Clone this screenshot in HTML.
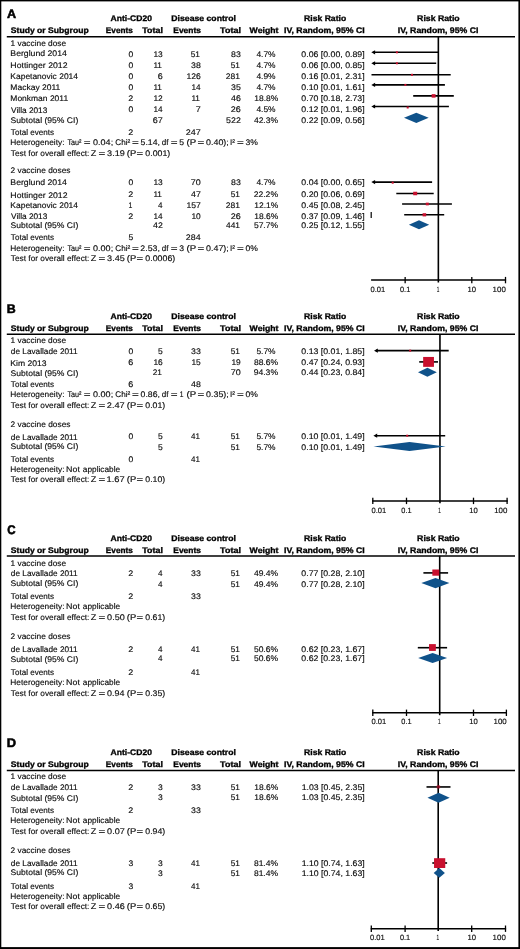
<!DOCTYPE html>
<html lang="en">
<head>
<meta charset="utf-8">
<title>Forest plots: Anti-CD20 vs disease control</title>
<style>
html,body{margin:0;padding:0;background:#fff;}
body{width:520px;height:949px;overflow:hidden;position:relative;}
svg{display:block;position:absolute;left:0;top:0;}
text{font-family:"Liberation Sans",Arial,Helvetica,sans-serif;fill:#0a0a0a;stroke:#0a0a0a;stroke-width:.14px;text-rendering:geometricPrecision;white-space:pre;}
text[font-weight=bold]{fill:#000;stroke:#000;stroke-width:.32px;}
text.pl{stroke-width:.55px;}
</style>
</head>
<body>
<svg width="520" height="949" viewBox="0 0 520 949">
<rect x="0" y="0" width="520" height="949" fill="#fff"/>
<rect x="0" y="0" width="520" height="1.4" fill="#000"/>
<rect x="0" y="0" width="1.3" height="949" fill="#000"/>
<rect x="518.4" y="0" width="1.6" height="949" fill="#000"/>
<rect x="0" y="947.1" width="520" height="1.9" fill="#000"/>
<g>
<line x1="6.80" y1="36.70" x2="515.00" y2="36.70" stroke="#000" stroke-width="1.5"/>
<line x1="438.35" y1="36.70" x2="438.35" y2="282.50" stroke="#000" stroke-width="1.6"/>
<line x1="371.10" y1="280.10" x2="506.10" y2="280.10" stroke="#000" stroke-width="1.5"/>
<line x1="405.15" y1="276.90" x2="405.15" y2="283.30" stroke="#000" stroke-width="1.3"/>
<line x1="471.80" y1="276.90" x2="471.80" y2="283.30" stroke="#000" stroke-width="1.3"/>
<line x1="505.50" y1="276.90" x2="505.50" y2="283.30" stroke="#000" stroke-width="1.3"/>
<line x1="373.30" y1="52.30" x2="438.00" y2="52.30" stroke="#000" stroke-width="1.6"/>
<polygon points="371.30,52.30 375.10,50.20 375.10,54.40" fill="#000"/>
<rect x="395.90" y="51.30" width="2.00" height="2.00" fill="#c8102e"/>
<line x1="373.30" y1="63.30" x2="436.20" y2="63.30" stroke="#000" stroke-width="1.6"/>
<polygon points="371.30,63.30 375.10,61.20 375.10,65.40" fill="#000"/>
<rect x="395.90" y="62.30" width="2.00" height="2.00" fill="#c8102e"/>
<line x1="371.50" y1="74.80" x2="450.70" y2="74.80" stroke="#000" stroke-width="1.6"/>
<rect x="411.00" y="73.80" width="2.00" height="2.00" fill="#c8102e"/>
<line x1="373.30" y1="84.90" x2="444.90" y2="84.90" stroke="#000" stroke-width="1.6"/>
<polygon points="371.30,84.90 375.10,82.80 375.10,87.00" fill="#000"/>
<rect x="404.40" y="83.90" width="2.00" height="2.00" fill="#c8102e"/>
<line x1="413.20" y1="95.90" x2="453.80" y2="95.90" stroke="#000" stroke-width="1.6"/>
<rect x="431.65" y="94.15" width="3.90" height="3.50" fill="#c8102e"/>
<line x1="373.30" y1="106.50" x2="448.90" y2="106.50" stroke="#000" stroke-width="1.6"/>
<polygon points="371.30,106.50 375.10,104.40 375.10,108.60" fill="#000"/>
<rect x="406.70" y="106.50" width="2.00" height="2.00" fill="#c8102e"/>
<polygon points="404.00,117.80 416.30,112.70 428.70,117.80 416.30,122.90" fill="#10528a"/>
<line x1="373.30" y1="182.10" x2="432.10" y2="182.10" stroke="#000" stroke-width="1.6"/>
<polygon points="371.30,182.10 375.10,180.00 375.10,184.20" fill="#000"/>
<rect x="391.70" y="181.70" width="2.00" height="2.00" fill="#c8102e"/>
<line x1="396.30" y1="193.50" x2="433.70" y2="193.50" stroke="#000" stroke-width="1.6"/>
<rect x="413.20" y="191.75" width="4.00" height="3.50" fill="#c8102e"/>
<line x1="402.10" y1="204.00" x2="451.90" y2="204.00" stroke="#000" stroke-width="1.6"/>
<rect x="425.80" y="202.65" width="3.00" height="2.70" fill="#c8102e"/>
<line x1="404.20" y1="214.80" x2="444.20" y2="214.80" stroke="#000" stroke-width="1.6"/>
<rect x="422.60" y="213.20" width="3.60" height="3.20" fill="#c8102e"/>
<polygon points="408.90,224.80 419.00,220.30 429.20,224.80 419.00,229.30" fill="#10528a"/>
<line x1="371.20" y1="212.10" x2="371.20" y2="218.10" stroke="#000" stroke-width="1.2"/>
<line x1="6.80" y1="334.20" x2="515.00" y2="334.20" stroke="#000" stroke-width="1.5"/>
<line x1="439.95" y1="334.20" x2="439.95" y2="503.30" stroke="#000" stroke-width="1.6"/>
<line x1="372.20" y1="500.90" x2="507.70" y2="500.90" stroke="#000" stroke-width="1.5"/>
<line x1="372.80" y1="497.70" x2="372.80" y2="504.10" stroke="#000" stroke-width="1.3"/>
<line x1="406.50" y1="497.70" x2="406.50" y2="504.10" stroke="#000" stroke-width="1.3"/>
<line x1="473.50" y1="497.70" x2="473.50" y2="504.10" stroke="#000" stroke-width="1.3"/>
<line x1="507.10" y1="497.70" x2="507.10" y2="504.10" stroke="#000" stroke-width="1.3"/>
<line x1="376.00" y1="350.65" x2="448.70" y2="350.65" stroke="#000" stroke-width="1.6"/>
<polygon points="374.00,350.65 377.80,348.55 377.80,352.75" fill="#000"/>
<rect x="409.20" y="349.65" width="2.00" height="2.00" fill="#c8102e"/>
<line x1="419.20" y1="361.90" x2="438.00" y2="361.90" stroke="#000" stroke-width="1.6"/>
<rect x="423.15" y="356.95" width="10.80" height="9.90" fill="#c8102e"/>
<polygon points="418.00,372.20 427.40,367.75 436.80,372.20 427.40,376.65" fill="#10528a"/>
<line x1="375.40" y1="435.70" x2="445.20" y2="435.70" stroke="#000" stroke-width="1.6"/>
<polygon points="373.40,435.70 377.20,433.60 377.20,437.80" fill="#000"/>
<rect x="406.20" y="434.70" width="2.00" height="2.00" fill="#c8102e"/>
<polygon points="373.50,446.50 409.50,442.00 445.70,446.50 409.50,451.00" fill="#10528a"/>
<line x1="6.80" y1="556.00" x2="515.00" y2="556.00" stroke="#000" stroke-width="1.5"/>
<line x1="439.70" y1="555.70" x2="439.70" y2="715.20" stroke="#000" stroke-width="1.6"/>
<line x1="372.20" y1="712.80" x2="507.00" y2="712.80" stroke="#000" stroke-width="1.5"/>
<line x1="372.80" y1="709.60" x2="372.80" y2="716.00" stroke="#000" stroke-width="1.3"/>
<line x1="406.50" y1="709.60" x2="406.50" y2="716.00" stroke="#000" stroke-width="1.3"/>
<line x1="473.50" y1="709.60" x2="473.50" y2="716.00" stroke="#000" stroke-width="1.3"/>
<line x1="506.40" y1="709.60" x2="506.40" y2="716.00" stroke="#000" stroke-width="1.3"/>
<line x1="423.40" y1="572.90" x2="448.10" y2="572.90" stroke="#000" stroke-width="1.6"/>
<rect x="432.35" y="569.50" width="6.90" height="6.20" fill="#c8102e"/>
<polygon points="421.30,583.10 435.50,577.95 449.40,583.10 435.50,588.25" fill="#10528a"/>
<line x1="417.80" y1="647.70" x2="447.10" y2="647.70" stroke="#000" stroke-width="1.6"/>
<rect x="429.05" y="644.10" width="6.80" height="6.80" fill="#c8102e"/>
<polygon points="418.20,658.00 432.60,653.00 447.10,658.00 432.60,663.00" fill="#10528a"/>
<line x1="6.80" y1="770.40" x2="515.00" y2="770.40" stroke="#000" stroke-width="1.5"/>
<line x1="438.20" y1="770.20" x2="438.20" y2="931.10" stroke="#000" stroke-width="1.6"/>
<line x1="370.70" y1="928.70" x2="506.10" y2="928.70" stroke="#000" stroke-width="1.5"/>
<line x1="371.30" y1="925.50" x2="371.30" y2="931.90" stroke="#000" stroke-width="1.3"/>
<line x1="405.10" y1="925.50" x2="405.10" y2="931.90" stroke="#000" stroke-width="1.3"/>
<line x1="471.70" y1="925.50" x2="471.70" y2="931.90" stroke="#000" stroke-width="1.3"/>
<line x1="505.50" y1="925.50" x2="505.50" y2="931.90" stroke="#000" stroke-width="1.3"/>
<line x1="426.50" y1="786.95" x2="450.50" y2="786.95" stroke="#000" stroke-width="1.6"/>
<rect x="436.6" y="785.3" width="3.6" height="3.3" rx="0.8" fill="#b00c28" fill-opacity="0.72"/>
<polygon points="427.50,797.75 438.60,792.65 449.70,797.75 438.60,802.85" fill="#10528a"/>
<line x1="432.30" y1="863.00" x2="447.10" y2="863.00" stroke="#000" stroke-width="1.6"/>
<rect x="434.05" y="858.20" width="11.20" height="9.80" fill="#c8102e"/>
<polygon points="433.70,872.90 439.30,868.10 444.90,872.90 439.30,877.70" fill="#10528a"/>
</g>
<g style="filter:grayscale(1)">
<text x="6.90" y="18.30" font-size="12.4" font-weight="bold" class="pl" textLength="9.10" lengthAdjust="spacingAndGlyphs">A</text>
<text x="110.60" y="21.20" font-size="8.15" font-weight="bold" textLength="41.30" lengthAdjust="spacingAndGlyphs">Anti-CD20</text>
<text x="171.35" y="21.20" font-size="8.15" font-weight="bold" textLength="64.55" lengthAdjust="spacingAndGlyphs">Disease control</text>
<text x="304.10" y="21.20" font-size="8.15" font-weight="bold" textLength="42.05" lengthAdjust="spacingAndGlyphs">Risk Ratio</text>
<text x="417.10" y="21.20" font-size="8.15" font-weight="bold" textLength="42.55" lengthAdjust="spacingAndGlyphs">Risk Ratio</text>
<text x="10.85" y="33.10" font-size="8.15" font-weight="bold" textLength="77.80" lengthAdjust="spacingAndGlyphs">Study or Subgroup</text>
<text x="105.85" y="33.10" font-size="8.15" font-weight="bold" textLength="27.05" lengthAdjust="spacingAndGlyphs">Events</text>
<text x="142.35" y="33.10" font-size="8.15" font-weight="bold" textLength="20.55" lengthAdjust="spacingAndGlyphs">Total</text>
<text x="173.35" y="33.10" font-size="8.15" font-weight="bold" textLength="27.55" lengthAdjust="spacingAndGlyphs">Events</text>
<text x="220.10" y="33.10" font-size="8.15" font-weight="bold" textLength="20.80" lengthAdjust="spacingAndGlyphs">Total</text>
<text x="249.60" y="33.10" font-size="8.15" font-weight="bold" textLength="28.80" lengthAdjust="spacingAndGlyphs">Weight</text>
<text x="284.10" y="33.10" font-size="8.15" font-weight="bold" textLength="80.55" lengthAdjust="spacingAndGlyphs">IV, Random, 95% CI</text>
<text x="397.85" y="33.10" font-size="8.15" font-weight="bold" textLength="80.55" lengthAdjust="spacingAndGlyphs">IV, Random, 95% CI</text>
<text x="10.60" y="45.65" font-size="8.15" textLength="55.55" lengthAdjust="spacingAndGlyphs">1 vaccine dose</text>
<text x="10.35" y="56.40" font-size="8.15" textLength="56.50" lengthAdjust="spacingAndGlyphs">Berglund 2014</text>
<text x="128.45" y="56.65" font-size="8.15" textLength="4.75" lengthAdjust="spacingAndGlyphs">0</text>
<text x="153.40" y="56.65" font-size="8.15" textLength="9.35" lengthAdjust="spacingAndGlyphs">13</text>
<text x="190.80" y="56.65" font-size="8.15" textLength="9.15" lengthAdjust="spacingAndGlyphs">51</text>
<text x="231.05" y="56.65" font-size="8.15" textLength="9.75" lengthAdjust="spacingAndGlyphs">83</text>
<text x="256.40" y="56.65" font-size="8.15" textLength="19.15" lengthAdjust="spacingAndGlyphs">4.7%</text>
<text x="301.35" y="56.65" font-size="8.15" textLength="63.30" lengthAdjust="spacingAndGlyphs">0.06 [0.00, 0.89]</text>
<text x="10.35" y="68.25" font-size="8.15" textLength="57.20" lengthAdjust="spacingAndGlyphs">Hottinger 2012</text>
<text x="128.45" y="68.00" font-size="8.15" textLength="4.75" lengthAdjust="spacingAndGlyphs">0</text>
<text x="153.40" y="68.00" font-size="8.15" textLength="8.50" lengthAdjust="spacingAndGlyphs">11</text>
<text x="191.05" y="68.00" font-size="8.15" textLength="9.75" lengthAdjust="spacingAndGlyphs">38</text>
<text x="230.80" y="68.00" font-size="8.15" textLength="9.15" lengthAdjust="spacingAndGlyphs">51</text>
<text x="256.40" y="68.00" font-size="8.15" textLength="19.15" lengthAdjust="spacingAndGlyphs">4.7%</text>
<text x="301.35" y="68.00" font-size="8.15" textLength="63.30" lengthAdjust="spacingAndGlyphs">0.06 [0.00, 0.85]</text>
<text x="10.35" y="78.90" font-size="8.15" textLength="67.65" lengthAdjust="spacingAndGlyphs">Kapetanovic 2014</text>
<text x="128.45" y="78.65" font-size="8.15" textLength="4.75" lengthAdjust="spacingAndGlyphs">0</text>
<text x="157.80" y="78.65" font-size="8.15" textLength="5.00" lengthAdjust="spacingAndGlyphs">6</text>
<text x="186.40" y="78.65" font-size="8.15" textLength="14.35" lengthAdjust="spacingAndGlyphs">126</text>
<text x="225.80" y="78.65" font-size="8.15" textLength="14.15" lengthAdjust="spacingAndGlyphs">281</text>
<text x="256.40" y="78.65" font-size="8.15" textLength="19.15" lengthAdjust="spacingAndGlyphs">4.9%</text>
<text x="301.35" y="78.65" font-size="8.15" textLength="63.30" lengthAdjust="spacingAndGlyphs">0.16 [0.01, 2.31]</text>
<text x="10.35" y="90.35" font-size="8.15" textLength="49.95" lengthAdjust="spacingAndGlyphs">Mackay 2011</text>
<text x="128.45" y="90.35" font-size="8.15" textLength="4.75" lengthAdjust="spacingAndGlyphs">0</text>
<text x="153.40" y="90.35" font-size="8.15" textLength="8.50" lengthAdjust="spacingAndGlyphs">11</text>
<text x="191.40" y="90.35" font-size="8.15" textLength="9.10" lengthAdjust="spacingAndGlyphs">14</text>
<text x="231.05" y="90.35" font-size="8.15" textLength="9.75" lengthAdjust="spacingAndGlyphs">35</text>
<text x="256.40" y="90.35" font-size="8.15" textLength="19.15" lengthAdjust="spacingAndGlyphs">4.7%</text>
<text x="301.35" y="90.35" font-size="8.15" textLength="63.30" lengthAdjust="spacingAndGlyphs">0.10 [0.01, 1.61]</text>
<text x="10.35" y="101.35" font-size="8.15" textLength="57.75" lengthAdjust="spacingAndGlyphs">Monkman 2011</text>
<text x="128.20" y="101.35" font-size="8.15" textLength="5.00" lengthAdjust="spacingAndGlyphs">2</text>
<text x="153.40" y="101.35" font-size="8.15" textLength="9.35" lengthAdjust="spacingAndGlyphs">12</text>
<text x="191.40" y="101.35" font-size="8.15" textLength="8.50" lengthAdjust="spacingAndGlyphs">11</text>
<text x="231.05" y="101.35" font-size="8.15" textLength="9.75" lengthAdjust="spacingAndGlyphs">46</text>
<text x="254.25" y="101.35" font-size="8.15" textLength="24.00" lengthAdjust="spacingAndGlyphs">18.8%</text>
<text x="301.35" y="101.35" font-size="8.15" textLength="63.30" lengthAdjust="spacingAndGlyphs">0.70 [0.18, 2.73]</text>
<text x="11.10" y="112.85" font-size="8.15" textLength="36.20" lengthAdjust="spacingAndGlyphs">Villa 2013</text>
<text x="128.45" y="112.45" font-size="8.15" textLength="4.75" lengthAdjust="spacingAndGlyphs">0</text>
<text x="153.40" y="112.45" font-size="8.15" textLength="9.10" lengthAdjust="spacingAndGlyphs">14</text>
<text x="195.80" y="112.45" font-size="8.15" textLength="5.00" lengthAdjust="spacingAndGlyphs">7</text>
<text x="230.80" y="112.45" font-size="8.15" textLength="10.00" lengthAdjust="spacingAndGlyphs">26</text>
<text x="256.40" y="112.45" font-size="8.15" textLength="19.15" lengthAdjust="spacingAndGlyphs">4.5%</text>
<text x="301.35" y="112.45" font-size="8.15" textLength="63.30" lengthAdjust="spacingAndGlyphs">0.12 [0.01, 1.96]</text>
<text x="10.60" y="122.80" font-size="8.15" textLength="67.65" lengthAdjust="spacingAndGlyphs">Subtotal (95% CI)</text>
<text x="152.80" y="122.55" font-size="8.15" textLength="10.00" lengthAdjust="spacingAndGlyphs">67</text>
<text x="226.05" y="122.55" font-size="8.15" textLength="14.75" lengthAdjust="spacingAndGlyphs">522</text>
<text x="253.90" y="122.55" font-size="8.15" textLength="24.15" lengthAdjust="spacingAndGlyphs">42.3%</text>
<text x="301.35" y="122.55" font-size="8.15" textLength="63.30" lengthAdjust="spacingAndGlyphs">0.22 [0.09, 0.56]</text>
<text x="10.85" y="134.95" font-size="8.15" textLength="43.15" lengthAdjust="spacingAndGlyphs">Total events</text>
<text x="128.20" y="134.95" font-size="8.15" textLength="5.00" lengthAdjust="spacingAndGlyphs">2</text>
<text x="185.80" y="134.95" font-size="8.15" textLength="15.00" lengthAdjust="spacingAndGlyphs">247</text>
<text y="145.35" font-size="8.15"><tspan x="10.35" textLength="54.15" lengthAdjust="spacingAndGlyphs">Heterogeneity:</tspan> <tspan x="67.45" textLength="14.05" lengthAdjust="spacingAndGlyphs">Tau²</tspan> <tspan x="83.85" textLength="6.80" lengthAdjust="spacingAndGlyphs">=</tspan> <tspan x="93.10" textLength="20.05" lengthAdjust="spacingAndGlyphs">0.04;</tspan> <tspan x="115.35" textLength="15.00" lengthAdjust="spacingAndGlyphs">Chi²</tspan> <tspan x="132.05" textLength="6.80" lengthAdjust="spacingAndGlyphs">=</tspan> <tspan x="140.60" textLength="19.30" lengthAdjust="spacingAndGlyphs">5.14,</tspan> <tspan x="161.75" textLength="6.70" lengthAdjust="spacingAndGlyphs">df</tspan> <tspan x="170.65" textLength="6.80" lengthAdjust="spacingAndGlyphs">=</tspan> <tspan x="179.25" textLength="4.80" lengthAdjust="spacingAndGlyphs">5</tspan> <tspan x="186.50" textLength="9.50" lengthAdjust="spacingAndGlyphs">(P</tspan> <tspan x="197.55" textLength="6.80" lengthAdjust="spacingAndGlyphs">=</tspan> <tspan x="206.10" textLength="22.70" lengthAdjust="spacingAndGlyphs">0.40);</tspan> <tspan x="229.95" textLength="4.90" lengthAdjust="spacingAndGlyphs">I²</tspan> <tspan x="236.90" textLength="6.80" lengthAdjust="spacingAndGlyphs">=</tspan> <tspan x="245.45" textLength="12.40" lengthAdjust="spacingAndGlyphs">3%</tspan></text>
<text y="155.75" font-size="8.15"><tspan x="10.85" textLength="78.55" lengthAdjust="spacingAndGlyphs">Test for overall effect:</tspan> <tspan x="90.85" textLength="5.55" lengthAdjust="spacingAndGlyphs">Z</tspan> <tspan x="98.60" textLength="6.80" lengthAdjust="spacingAndGlyphs">=</tspan> <tspan x="107.10" textLength="17.65" lengthAdjust="spacingAndGlyphs">3.19</tspan> <tspan x="126.85" textLength="9.25" lengthAdjust="spacingAndGlyphs">(P</tspan> <tspan x="136.50" textLength="6.65" lengthAdjust="spacingAndGlyphs">=</tspan> <tspan x="145.35" textLength="24.90" lengthAdjust="spacingAndGlyphs">0.001)</tspan></text>
<text x="10.60" y="172.95" font-size="8.15" textLength="59.85" lengthAdjust="spacingAndGlyphs">2 vaccine doses</text>
<text x="10.35" y="184.95" font-size="8.15" textLength="56.50" lengthAdjust="spacingAndGlyphs">Berglund 2014</text>
<text x="128.45" y="184.95" font-size="8.15" textLength="4.75" lengthAdjust="spacingAndGlyphs">0</text>
<text x="153.40" y="184.95" font-size="8.15" textLength="9.35" lengthAdjust="spacingAndGlyphs">13</text>
<text x="190.80" y="184.95" font-size="8.15" textLength="10.00" lengthAdjust="spacingAndGlyphs">70</text>
<text x="231.05" y="184.95" font-size="8.15" textLength="9.75" lengthAdjust="spacingAndGlyphs">83</text>
<text x="256.40" y="184.95" font-size="8.15" textLength="19.15" lengthAdjust="spacingAndGlyphs">4.7%</text>
<text x="301.35" y="184.95" font-size="8.15" textLength="63.30" lengthAdjust="spacingAndGlyphs">0.04 [0.00, 0.65]</text>
<text x="10.35" y="197.70" font-size="8.15" textLength="57.20" lengthAdjust="spacingAndGlyphs">Hottinger 2012</text>
<text x="128.20" y="197.30" font-size="8.15" textLength="5.00" lengthAdjust="spacingAndGlyphs">2</text>
<text x="153.40" y="197.30" font-size="8.15" textLength="8.50" lengthAdjust="spacingAndGlyphs">11</text>
<text x="191.05" y="197.30" font-size="8.15" textLength="9.75" lengthAdjust="spacingAndGlyphs">47</text>
<text x="230.80" y="197.30" font-size="8.15" textLength="9.15" lengthAdjust="spacingAndGlyphs">51</text>
<text x="253.65" y="197.30" font-size="8.15" textLength="24.40" lengthAdjust="spacingAndGlyphs">22.2%</text>
<text x="301.35" y="197.30" font-size="8.15" textLength="63.30" lengthAdjust="spacingAndGlyphs">0.20 [0.06, 0.69]</text>
<text x="10.35" y="208.05" font-size="8.15" textLength="67.65" lengthAdjust="spacingAndGlyphs">Kapetanovic 2014</text>
<text x="128.60" y="207.80" font-size="8.15" textLength="3.85" lengthAdjust="spacingAndGlyphs">1</text>
<text x="158.05" y="207.80" font-size="8.15" textLength="4.50" lengthAdjust="spacingAndGlyphs">4</text>
<text x="186.40" y="207.80" font-size="8.15" textLength="14.35" lengthAdjust="spacingAndGlyphs">157</text>
<text x="225.80" y="207.80" font-size="8.15" textLength="14.15" lengthAdjust="spacingAndGlyphs">281</text>
<text x="254.25" y="207.80" font-size="8.15" textLength="24.00" lengthAdjust="spacingAndGlyphs">12.1%</text>
<text x="301.35" y="207.80" font-size="8.15" textLength="63.30" lengthAdjust="spacingAndGlyphs">0.45 [0.08, 2.45]</text>
<text x="11.10" y="219.45" font-size="8.15" textLength="36.20" lengthAdjust="spacingAndGlyphs">Villa 2013</text>
<text x="128.20" y="219.20" font-size="8.15" textLength="5.00" lengthAdjust="spacingAndGlyphs">2</text>
<text x="153.40" y="219.20" font-size="8.15" textLength="9.10" lengthAdjust="spacingAndGlyphs">14</text>
<text x="191.40" y="219.20" font-size="8.15" textLength="9.35" lengthAdjust="spacingAndGlyphs">10</text>
<text x="230.80" y="219.20" font-size="8.15" textLength="10.00" lengthAdjust="spacingAndGlyphs">26</text>
<text x="254.25" y="219.20" font-size="8.15" textLength="24.00" lengthAdjust="spacingAndGlyphs">18.6%</text>
<text x="301.35" y="219.20" font-size="8.15" textLength="63.30" lengthAdjust="spacingAndGlyphs">0.37 [0.09, 1.46]</text>
<text x="10.60" y="228.05" font-size="8.15" textLength="67.65" lengthAdjust="spacingAndGlyphs">Subtotal (95% CI)</text>
<text x="153.05" y="228.05" font-size="8.15" textLength="9.75" lengthAdjust="spacingAndGlyphs">42</text>
<text x="226.05" y="228.05" font-size="8.15" textLength="13.90" lengthAdjust="spacingAndGlyphs">441</text>
<text x="253.90" y="228.05" font-size="8.15" textLength="24.15" lengthAdjust="spacingAndGlyphs">57.7%</text>
<text x="301.35" y="228.05" font-size="8.15" textLength="63.30" lengthAdjust="spacingAndGlyphs">0.25 [0.12, 1.55]</text>
<text x="10.85" y="240.15" font-size="8.15" textLength="43.15" lengthAdjust="spacingAndGlyphs">Total events</text>
<text x="128.45" y="240.15" font-size="8.15" textLength="4.75" lengthAdjust="spacingAndGlyphs">5</text>
<text x="185.80" y="240.15" font-size="8.15" textLength="14.75" lengthAdjust="spacingAndGlyphs">284</text>
<text y="251.15" font-size="8.15"><tspan x="10.35" textLength="54.15" lengthAdjust="spacingAndGlyphs">Heterogeneity:</tspan> <tspan x="67.45" textLength="14.05" lengthAdjust="spacingAndGlyphs">Tau²</tspan> <tspan x="83.85" textLength="6.80" lengthAdjust="spacingAndGlyphs">=</tspan> <tspan x="93.10" textLength="20.05" lengthAdjust="spacingAndGlyphs">0.00;</tspan> <tspan x="115.35" textLength="15.00" lengthAdjust="spacingAndGlyphs">Chi²</tspan> <tspan x="132.05" textLength="6.80" lengthAdjust="spacingAndGlyphs">=</tspan> <tspan x="140.35" textLength="19.55" lengthAdjust="spacingAndGlyphs">2.53,</tspan> <tspan x="161.75" textLength="6.70" lengthAdjust="spacingAndGlyphs">df</tspan> <tspan x="170.65" textLength="6.80" lengthAdjust="spacingAndGlyphs">=</tspan> <tspan x="179.25" textLength="4.80" lengthAdjust="spacingAndGlyphs">3</tspan> <tspan x="186.50" textLength="9.50" lengthAdjust="spacingAndGlyphs">(P</tspan> <tspan x="197.55" textLength="6.80" lengthAdjust="spacingAndGlyphs">=</tspan> <tspan x="206.10" textLength="22.70" lengthAdjust="spacingAndGlyphs">0.47);</tspan> <tspan x="229.95" textLength="4.90" lengthAdjust="spacingAndGlyphs">I²</tspan> <tspan x="236.90" textLength="6.80" lengthAdjust="spacingAndGlyphs">=</tspan> <tspan x="245.45" textLength="12.40" lengthAdjust="spacingAndGlyphs">0%</tspan></text>
<text y="261.25" font-size="8.15"><tspan x="10.85" textLength="78.55" lengthAdjust="spacingAndGlyphs">Test for overall effect:</tspan> <tspan x="90.85" textLength="5.55" lengthAdjust="spacingAndGlyphs">Z</tspan> <tspan x="98.60" textLength="6.80" lengthAdjust="spacingAndGlyphs">=</tspan> <tspan x="107.10" textLength="17.65" lengthAdjust="spacingAndGlyphs">3.45</tspan> <tspan x="126.85" textLength="9.25" lengthAdjust="spacingAndGlyphs">(P</tspan> <tspan x="136.50" textLength="6.65" lengthAdjust="spacingAndGlyphs">=</tspan> <tspan x="145.35" textLength="29.90" lengthAdjust="spacingAndGlyphs">0.0006)</tspan></text>
<text x="370.45" y="291.90" font-size="7.7" textLength="14.75" lengthAdjust="spacingAndGlyphs">0.01</text>
<text x="400.00" y="291.90" font-size="7.7" textLength="10.25" lengthAdjust="spacingAndGlyphs">0.1</text>
<text x="436.65" y="291.90" font-size="7.7" textLength="2.60" lengthAdjust="spacingAndGlyphs">1</text>
<text x="467.60" y="291.90" font-size="7.7" textLength="8.55" lengthAdjust="spacingAndGlyphs">10</text>
<text x="492.60" y="291.90" font-size="7.7" textLength="13.20" lengthAdjust="spacingAndGlyphs">100</text>
<text x="6.65" y="313.10" font-size="12.4" font-weight="bold" class="pl" textLength="8.95" lengthAdjust="spacingAndGlyphs">B</text>
<text x="110.60" y="318.60" font-size="8.15" font-weight="bold" textLength="41.30" lengthAdjust="spacingAndGlyphs">Anti-CD20</text>
<text x="171.35" y="318.60" font-size="8.15" font-weight="bold" textLength="64.55" lengthAdjust="spacingAndGlyphs">Disease control</text>
<text x="304.10" y="318.60" font-size="8.15" font-weight="bold" textLength="42.05" lengthAdjust="spacingAndGlyphs">Risk Ratio</text>
<text x="417.10" y="318.60" font-size="8.15" font-weight="bold" textLength="42.55" lengthAdjust="spacingAndGlyphs">Risk Ratio</text>
<text x="10.85" y="330.90" font-size="8.15" font-weight="bold" textLength="77.80" lengthAdjust="spacingAndGlyphs">Study or Subgroup</text>
<text x="105.85" y="330.90" font-size="8.15" font-weight="bold" textLength="27.05" lengthAdjust="spacingAndGlyphs">Events</text>
<text x="142.35" y="330.90" font-size="8.15" font-weight="bold" textLength="20.55" lengthAdjust="spacingAndGlyphs">Total</text>
<text x="173.35" y="330.90" font-size="8.15" font-weight="bold" textLength="27.55" lengthAdjust="spacingAndGlyphs">Events</text>
<text x="220.10" y="330.90" font-size="8.15" font-weight="bold" textLength="20.80" lengthAdjust="spacingAndGlyphs">Total</text>
<text x="249.60" y="330.90" font-size="8.15" font-weight="bold" textLength="28.80" lengthAdjust="spacingAndGlyphs">Weight</text>
<text x="284.10" y="330.90" font-size="8.15" font-weight="bold" textLength="80.55" lengthAdjust="spacingAndGlyphs">IV, Random, 95% CI</text>
<text x="397.85" y="330.90" font-size="8.15" font-weight="bold" textLength="80.55" lengthAdjust="spacingAndGlyphs">IV, Random, 95% CI</text>
<text x="10.60" y="343.40" font-size="8.15" textLength="55.55" lengthAdjust="spacingAndGlyphs">1 vaccine dose</text>
<text x="10.85" y="354.05" font-size="8.15" textLength="66.80" lengthAdjust="spacingAndGlyphs">de Lavallade 2011</text>
<text x="128.45" y="353.80" font-size="8.15" textLength="4.75" lengthAdjust="spacingAndGlyphs">0</text>
<text x="158.05" y="353.80" font-size="8.15" textLength="4.75" lengthAdjust="spacingAndGlyphs">5</text>
<text x="191.05" y="353.80" font-size="8.15" textLength="9.75" lengthAdjust="spacingAndGlyphs">33</text>
<text x="230.80" y="353.80" font-size="8.15" textLength="9.15" lengthAdjust="spacingAndGlyphs">51</text>
<text x="256.40" y="353.80" font-size="8.15" textLength="19.15" lengthAdjust="spacingAndGlyphs">5.7%</text>
<text x="301.35" y="353.80" font-size="8.15" textLength="63.30" lengthAdjust="spacingAndGlyphs">0.13 [0.01, 1.85]</text>
<text x="10.35" y="365.75" font-size="8.15" textLength="36.30" lengthAdjust="spacingAndGlyphs">Kim 2013</text>
<text x="128.20" y="365.15" font-size="8.15" textLength="5.00" lengthAdjust="spacingAndGlyphs">6</text>
<text x="153.40" y="365.15" font-size="8.15" textLength="9.35" lengthAdjust="spacingAndGlyphs">16</text>
<text x="191.40" y="365.15" font-size="8.15" textLength="9.35" lengthAdjust="spacingAndGlyphs">15</text>
<text x="231.40" y="365.15" font-size="8.15" textLength="9.35" lengthAdjust="spacingAndGlyphs">19</text>
<text x="253.90" y="365.15" font-size="8.15" textLength="24.15" lengthAdjust="spacingAndGlyphs">88.6%</text>
<text x="301.35" y="365.15" font-size="8.15" textLength="63.30" lengthAdjust="spacingAndGlyphs">0.47 [0.24, 0.93]</text>
<text x="10.60" y="375.60" font-size="8.15" textLength="67.65" lengthAdjust="spacingAndGlyphs">Subtotal (95% CI)</text>
<text x="152.80" y="375.00" font-size="8.15" textLength="9.15" lengthAdjust="spacingAndGlyphs">21</text>
<text x="230.80" y="375.00" font-size="8.15" textLength="10.00" lengthAdjust="spacingAndGlyphs">70</text>
<text x="253.65" y="375.00" font-size="8.15" textLength="24.40" lengthAdjust="spacingAndGlyphs">94.3%</text>
<text x="301.35" y="375.00" font-size="8.15" textLength="63.30" lengthAdjust="spacingAndGlyphs">0.44 [0.23, 0.84]</text>
<text x="10.85" y="386.55" font-size="8.15" textLength="43.15" lengthAdjust="spacingAndGlyphs">Total events</text>
<text x="128.20" y="386.55" font-size="8.15" textLength="5.00" lengthAdjust="spacingAndGlyphs">6</text>
<text x="191.05" y="386.55" font-size="8.15" textLength="9.75" lengthAdjust="spacingAndGlyphs">48</text>
<text y="397.40" font-size="8.15"><tspan x="10.35" textLength="54.15" lengthAdjust="spacingAndGlyphs">Heterogeneity:</tspan> <tspan x="67.45" textLength="14.05" lengthAdjust="spacingAndGlyphs">Tau²</tspan> <tspan x="83.85" textLength="6.80" lengthAdjust="spacingAndGlyphs">=</tspan> <tspan x="93.10" textLength="20.05" lengthAdjust="spacingAndGlyphs">0.00;</tspan> <tspan x="115.35" textLength="15.00" lengthAdjust="spacingAndGlyphs">Chi²</tspan> <tspan x="132.05" textLength="6.80" lengthAdjust="spacingAndGlyphs">=</tspan> <tspan x="140.60" textLength="19.30" lengthAdjust="spacingAndGlyphs">0.86,</tspan> <tspan x="161.75" textLength="6.70" lengthAdjust="spacingAndGlyphs">df</tspan> <tspan x="170.65" textLength="6.80" lengthAdjust="spacingAndGlyphs">=</tspan> <tspan x="179.80" textLength="3.70" lengthAdjust="spacingAndGlyphs">1</tspan> <tspan x="186.50" textLength="9.50" lengthAdjust="spacingAndGlyphs">(P</tspan> <tspan x="197.55" textLength="6.80" lengthAdjust="spacingAndGlyphs">=</tspan> <tspan x="206.10" textLength="22.70" lengthAdjust="spacingAndGlyphs">0.35);</tspan> <tspan x="229.95" textLength="4.90" lengthAdjust="spacingAndGlyphs">I²</tspan> <tspan x="236.90" textLength="6.80" lengthAdjust="spacingAndGlyphs">=</tspan> <tspan x="245.45" textLength="12.40" lengthAdjust="spacingAndGlyphs">0%</tspan></text>
<text y="408.05" font-size="8.15"><tspan x="10.85" textLength="78.55" lengthAdjust="spacingAndGlyphs">Test for overall effect:</tspan> <tspan x="90.85" textLength="5.55" lengthAdjust="spacingAndGlyphs">Z</tspan> <tspan x="98.60" textLength="6.80" lengthAdjust="spacingAndGlyphs">=</tspan> <tspan x="106.85" textLength="17.90" lengthAdjust="spacingAndGlyphs">2.47</tspan> <tspan x="126.85" textLength="9.25" lengthAdjust="spacingAndGlyphs">(P</tspan> <tspan x="136.50" textLength="6.65" lengthAdjust="spacingAndGlyphs">=</tspan> <tspan x="145.35" textLength="19.90" lengthAdjust="spacingAndGlyphs">0.01)</tspan></text>
<text x="10.60" y="426.60" font-size="8.15" textLength="59.85" lengthAdjust="spacingAndGlyphs">2 vaccine doses</text>
<text x="10.85" y="439.75" font-size="8.15" textLength="66.80" lengthAdjust="spacingAndGlyphs">de Lavallade 2011</text>
<text x="128.45" y="439.15" font-size="8.15" textLength="4.75" lengthAdjust="spacingAndGlyphs">0</text>
<text x="158.05" y="439.15" font-size="8.15" textLength="4.75" lengthAdjust="spacingAndGlyphs">5</text>
<text x="191.05" y="439.15" font-size="8.15" textLength="8.90" lengthAdjust="spacingAndGlyphs">41</text>
<text x="230.80" y="439.15" font-size="8.15" textLength="9.15" lengthAdjust="spacingAndGlyphs">51</text>
<text x="256.40" y="439.15" font-size="8.15" textLength="19.15" lengthAdjust="spacingAndGlyphs">5.7%</text>
<text x="301.35" y="439.15" font-size="8.15" textLength="63.30" lengthAdjust="spacingAndGlyphs">0.10 [0.01, 1.49]</text>
<text x="10.60" y="449.30" font-size="8.15" textLength="67.65" lengthAdjust="spacingAndGlyphs">Subtotal (95% CI)</text>
<text x="158.05" y="449.55" font-size="8.15" textLength="4.75" lengthAdjust="spacingAndGlyphs">5</text>
<text x="230.80" y="449.55" font-size="8.15" textLength="9.15" lengthAdjust="spacingAndGlyphs">51</text>
<text x="256.40" y="449.55" font-size="8.15" textLength="19.15" lengthAdjust="spacingAndGlyphs">5.7%</text>
<text x="301.35" y="449.55" font-size="8.15" textLength="63.30" lengthAdjust="spacingAndGlyphs">0.10 [0.01, 1.49]</text>
<text x="10.85" y="461.65" font-size="8.15" textLength="43.15" lengthAdjust="spacingAndGlyphs">Total events</text>
<text x="128.45" y="461.65" font-size="8.15" textLength="4.75" lengthAdjust="spacingAndGlyphs">0</text>
<text x="191.05" y="461.65" font-size="8.15" textLength="8.90" lengthAdjust="spacingAndGlyphs">41</text>
<text y="472.45" font-size="8.15"><tspan x="10.35" textLength="54.15" lengthAdjust="spacingAndGlyphs">Heterogeneity:</tspan> <tspan x="66.10" textLength="13.80" lengthAdjust="spacingAndGlyphs">Not</tspan> <tspan x="82.85" textLength="37.30" lengthAdjust="spacingAndGlyphs">applicable</tspan></text>
<text y="482.40" font-size="8.15"><tspan x="10.85" textLength="78.55" lengthAdjust="spacingAndGlyphs">Test for overall effect:</tspan> <tspan x="90.85" textLength="5.55" lengthAdjust="spacingAndGlyphs">Z</tspan> <tspan x="98.60" textLength="6.80" lengthAdjust="spacingAndGlyphs">=</tspan> <tspan x="106.60" textLength="18.15" lengthAdjust="spacingAndGlyphs">1.67</tspan> <tspan x="126.85" textLength="9.25" lengthAdjust="spacingAndGlyphs">(P</tspan> <tspan x="136.50" textLength="6.65" lengthAdjust="spacingAndGlyphs">=</tspan> <tspan x="145.35" textLength="19.90" lengthAdjust="spacingAndGlyphs">0.10)</tspan></text>
<text x="371.55" y="512.60" font-size="7.7" textLength="14.75" lengthAdjust="spacingAndGlyphs">0.01</text>
<text x="401.35" y="512.60" font-size="7.7" textLength="10.25" lengthAdjust="spacingAndGlyphs">0.1</text>
<text x="438.25" y="512.60" font-size="7.7" textLength="2.60" lengthAdjust="spacingAndGlyphs">1</text>
<text x="469.30" y="512.60" font-size="7.7" textLength="8.55" lengthAdjust="spacingAndGlyphs">10</text>
<text x="494.20" y="512.60" font-size="7.7" textLength="13.20" lengthAdjust="spacingAndGlyphs">100</text>
<text x="7.25" y="534.20" font-size="12.4" font-weight="bold" class="pl" textLength="8.35" lengthAdjust="spacingAndGlyphs">C</text>
<text x="110.60" y="540.80" font-size="8.15" font-weight="bold" textLength="41.30" lengthAdjust="spacingAndGlyphs">Anti-CD20</text>
<text x="171.35" y="540.80" font-size="8.15" font-weight="bold" textLength="64.55" lengthAdjust="spacingAndGlyphs">Disease control</text>
<text x="304.10" y="540.80" font-size="8.15" font-weight="bold" textLength="42.05" lengthAdjust="spacingAndGlyphs">Risk Ratio</text>
<text x="417.10" y="540.80" font-size="8.15" font-weight="bold" textLength="42.55" lengthAdjust="spacingAndGlyphs">Risk Ratio</text>
<text x="10.85" y="552.60" font-size="8.15" font-weight="bold" textLength="77.80" lengthAdjust="spacingAndGlyphs">Study or Subgroup</text>
<text x="105.85" y="552.60" font-size="8.15" font-weight="bold" textLength="27.05" lengthAdjust="spacingAndGlyphs">Events</text>
<text x="142.35" y="552.60" font-size="8.15" font-weight="bold" textLength="20.55" lengthAdjust="spacingAndGlyphs">Total</text>
<text x="173.35" y="552.60" font-size="8.15" font-weight="bold" textLength="27.55" lengthAdjust="spacingAndGlyphs">Events</text>
<text x="220.10" y="552.60" font-size="8.15" font-weight="bold" textLength="20.80" lengthAdjust="spacingAndGlyphs">Total</text>
<text x="249.60" y="552.60" font-size="8.15" font-weight="bold" textLength="28.80" lengthAdjust="spacingAndGlyphs">Weight</text>
<text x="284.10" y="552.60" font-size="8.15" font-weight="bold" textLength="80.55" lengthAdjust="spacingAndGlyphs">IV, Random, 95% CI</text>
<text x="397.85" y="552.60" font-size="8.15" font-weight="bold" textLength="80.55" lengthAdjust="spacingAndGlyphs">IV, Random, 95% CI</text>
<text x="10.60" y="565.50" font-size="8.15" textLength="55.55" lengthAdjust="spacingAndGlyphs">1 vaccine dose</text>
<text x="10.85" y="575.90" font-size="8.15" textLength="66.80" lengthAdjust="spacingAndGlyphs">de Lavallade 2011</text>
<text x="128.20" y="576.15" font-size="8.15" textLength="5.00" lengthAdjust="spacingAndGlyphs">2</text>
<text x="158.05" y="576.15" font-size="8.15" textLength="4.50" lengthAdjust="spacingAndGlyphs">4</text>
<text x="191.05" y="576.15" font-size="8.15" textLength="9.75" lengthAdjust="spacingAndGlyphs">33</text>
<text x="230.80" y="576.15" font-size="8.15" textLength="9.15" lengthAdjust="spacingAndGlyphs">51</text>
<text x="253.90" y="576.15" font-size="8.15" textLength="24.15" lengthAdjust="spacingAndGlyphs">49.4%</text>
<text x="301.35" y="576.15" font-size="8.15" textLength="63.30" lengthAdjust="spacingAndGlyphs">0.77 [0.28, 2.10]</text>
<text x="10.60" y="586.45" font-size="8.15" textLength="67.65" lengthAdjust="spacingAndGlyphs">Subtotal (95% CI)</text>
<text x="158.05" y="586.85" font-size="8.15" textLength="4.50" lengthAdjust="spacingAndGlyphs">4</text>
<text x="230.80" y="586.85" font-size="8.15" textLength="9.15" lengthAdjust="spacingAndGlyphs">51</text>
<text x="253.90" y="586.85" font-size="8.15" textLength="24.15" lengthAdjust="spacingAndGlyphs">49.4%</text>
<text x="301.35" y="586.85" font-size="8.15" textLength="63.30" lengthAdjust="spacingAndGlyphs">0.77 [0.28, 2.10]</text>
<text x="10.85" y="598.75" font-size="8.15" textLength="43.15" lengthAdjust="spacingAndGlyphs">Total events</text>
<text x="128.20" y="598.75" font-size="8.15" textLength="5.00" lengthAdjust="spacingAndGlyphs">2</text>
<text x="191.05" y="598.75" font-size="8.15" textLength="9.75" lengthAdjust="spacingAndGlyphs">33</text>
<text y="609.35" font-size="8.15"><tspan x="10.35" textLength="54.15" lengthAdjust="spacingAndGlyphs">Heterogeneity:</tspan> <tspan x="66.10" textLength="13.80" lengthAdjust="spacingAndGlyphs">Not</tspan> <tspan x="82.85" textLength="37.30" lengthAdjust="spacingAndGlyphs">applicable</tspan></text>
<text y="619.60" font-size="8.15"><tspan x="10.85" textLength="78.55" lengthAdjust="spacingAndGlyphs">Test for overall effect:</tspan> <tspan x="90.85" textLength="5.55" lengthAdjust="spacingAndGlyphs">Z</tspan> <tspan x="98.60" textLength="6.80" lengthAdjust="spacingAndGlyphs">=</tspan> <tspan x="107.10" textLength="17.65" lengthAdjust="spacingAndGlyphs">0.50</tspan> <tspan x="126.85" textLength="9.25" lengthAdjust="spacingAndGlyphs">(P</tspan> <tspan x="136.50" textLength="6.65" lengthAdjust="spacingAndGlyphs">=</tspan> <tspan x="145.35" textLength="19.90" lengthAdjust="spacingAndGlyphs">0.61)</tspan></text>
<text x="10.60" y="638.85" font-size="8.15" textLength="59.85" lengthAdjust="spacingAndGlyphs">2 vaccine doses</text>
<text x="10.85" y="652.05" font-size="8.15" textLength="66.80" lengthAdjust="spacingAndGlyphs">de Lavallade 2011</text>
<text x="128.20" y="652.05" font-size="8.15" textLength="5.00" lengthAdjust="spacingAndGlyphs">2</text>
<text x="158.05" y="652.05" font-size="8.15" textLength="4.50" lengthAdjust="spacingAndGlyphs">4</text>
<text x="191.05" y="652.05" font-size="8.15" textLength="8.90" lengthAdjust="spacingAndGlyphs">41</text>
<text x="230.80" y="652.05" font-size="8.15" textLength="9.15" lengthAdjust="spacingAndGlyphs">51</text>
<text x="253.90" y="652.05" font-size="8.15" textLength="24.15" lengthAdjust="spacingAndGlyphs">50.6%</text>
<text x="301.35" y="652.05" font-size="8.15" textLength="63.30" lengthAdjust="spacingAndGlyphs">0.62 [0.23, 1.67]</text>
<text x="10.60" y="661.80" font-size="8.15" textLength="67.65" lengthAdjust="spacingAndGlyphs">Subtotal (95% CI)</text>
<text x="158.05" y="661.40" font-size="8.15" textLength="4.50" lengthAdjust="spacingAndGlyphs">4</text>
<text x="230.80" y="661.40" font-size="8.15" textLength="9.15" lengthAdjust="spacingAndGlyphs">51</text>
<text x="253.90" y="661.40" font-size="8.15" textLength="24.15" lengthAdjust="spacingAndGlyphs">50.6%</text>
<text x="301.35" y="661.40" font-size="8.15" textLength="63.30" lengthAdjust="spacingAndGlyphs">0.62 [0.23, 1.67]</text>
<text x="10.85" y="675.10" font-size="8.15" textLength="43.15" lengthAdjust="spacingAndGlyphs">Total events</text>
<text x="128.20" y="675.10" font-size="8.15" textLength="5.00" lengthAdjust="spacingAndGlyphs">2</text>
<text x="191.05" y="675.10" font-size="8.15" textLength="8.90" lengthAdjust="spacingAndGlyphs">41</text>
<text y="684.70" font-size="8.15"><tspan x="10.35" textLength="54.15" lengthAdjust="spacingAndGlyphs">Heterogeneity:</tspan> <tspan x="66.10" textLength="13.80" lengthAdjust="spacingAndGlyphs">Not</tspan> <tspan x="82.85" textLength="37.30" lengthAdjust="spacingAndGlyphs">applicable</tspan></text>
<text y="695.75" font-size="8.15"><tspan x="10.85" textLength="78.55" lengthAdjust="spacingAndGlyphs">Test for overall effect:</tspan> <tspan x="90.85" textLength="5.55" lengthAdjust="spacingAndGlyphs">Z</tspan> <tspan x="98.60" textLength="6.80" lengthAdjust="spacingAndGlyphs">=</tspan> <tspan x="107.10" textLength="17.40" lengthAdjust="spacingAndGlyphs">0.94</tspan> <tspan x="126.85" textLength="9.25" lengthAdjust="spacingAndGlyphs">(P</tspan> <tspan x="136.50" textLength="6.65" lengthAdjust="spacingAndGlyphs">=</tspan> <tspan x="145.35" textLength="19.90" lengthAdjust="spacingAndGlyphs">0.35)</tspan></text>
<text x="371.55" y="724.40" font-size="7.7" textLength="14.75" lengthAdjust="spacingAndGlyphs">0.01</text>
<text x="401.35" y="724.40" font-size="7.7" textLength="10.25" lengthAdjust="spacingAndGlyphs">0.1</text>
<text x="438.00" y="724.40" font-size="7.7" textLength="2.60" lengthAdjust="spacingAndGlyphs">1</text>
<text x="469.30" y="724.40" font-size="7.7" textLength="8.55" lengthAdjust="spacingAndGlyphs">10</text>
<text x="493.50" y="724.40" font-size="7.7" textLength="13.20" lengthAdjust="spacingAndGlyphs">100</text>
<text x="6.70" y="747.10" font-size="12.4" font-weight="bold" class="pl" textLength="9.30" lengthAdjust="spacingAndGlyphs">D</text>
<text x="110.60" y="754.70" font-size="8.15" font-weight="bold" textLength="41.30" lengthAdjust="spacingAndGlyphs">Anti-CD20</text>
<text x="171.35" y="754.70" font-size="8.15" font-weight="bold" textLength="64.55" lengthAdjust="spacingAndGlyphs">Disease control</text>
<text x="304.10" y="754.70" font-size="8.15" font-weight="bold" textLength="42.05" lengthAdjust="spacingAndGlyphs">Risk Ratio</text>
<text x="417.10" y="754.70" font-size="8.15" font-weight="bold" textLength="42.55" lengthAdjust="spacingAndGlyphs">Risk Ratio</text>
<text x="10.85" y="766.80" font-size="8.15" font-weight="bold" textLength="77.80" lengthAdjust="spacingAndGlyphs">Study or Subgroup</text>
<text x="105.85" y="766.80" font-size="8.15" font-weight="bold" textLength="27.05" lengthAdjust="spacingAndGlyphs">Events</text>
<text x="142.35" y="766.80" font-size="8.15" font-weight="bold" textLength="20.55" lengthAdjust="spacingAndGlyphs">Total</text>
<text x="173.35" y="766.80" font-size="8.15" font-weight="bold" textLength="27.55" lengthAdjust="spacingAndGlyphs">Events</text>
<text x="220.10" y="766.80" font-size="8.15" font-weight="bold" textLength="20.80" lengthAdjust="spacingAndGlyphs">Total</text>
<text x="249.60" y="766.80" font-size="8.15" font-weight="bold" textLength="28.80" lengthAdjust="spacingAndGlyphs">Weight</text>
<text x="284.10" y="766.80" font-size="8.15" font-weight="bold" textLength="80.55" lengthAdjust="spacingAndGlyphs">IV, Random, 95% CI</text>
<text x="397.85" y="766.80" font-size="8.15" font-weight="bold" textLength="80.55" lengthAdjust="spacingAndGlyphs">IV, Random, 95% CI</text>
<text x="10.60" y="779.05" font-size="8.15" textLength="55.55" lengthAdjust="spacingAndGlyphs">1 vaccine dose</text>
<text x="10.85" y="789.95" font-size="8.15" textLength="66.80" lengthAdjust="spacingAndGlyphs">de Lavallade 2011</text>
<text x="128.20" y="789.95" font-size="8.15" textLength="5.00" lengthAdjust="spacingAndGlyphs">2</text>
<text x="158.05" y="789.95" font-size="8.15" textLength="4.75" lengthAdjust="spacingAndGlyphs">3</text>
<text x="191.05" y="789.95" font-size="8.15" textLength="9.75" lengthAdjust="spacingAndGlyphs">33</text>
<text x="230.80" y="789.95" font-size="8.15" textLength="9.15" lengthAdjust="spacingAndGlyphs">51</text>
<text x="254.25" y="789.95" font-size="8.15" textLength="24.00" lengthAdjust="spacingAndGlyphs">18.6%</text>
<text x="301.65" y="789.95" font-size="8.15" textLength="63.10" lengthAdjust="spacingAndGlyphs">1.03 [0.45, 2.35]</text>
<text x="10.60" y="800.65" font-size="8.15" textLength="67.65" lengthAdjust="spacingAndGlyphs">Subtotal (95% CI)</text>
<text x="158.05" y="800.25" font-size="8.15" textLength="4.75" lengthAdjust="spacingAndGlyphs">3</text>
<text x="230.80" y="800.25" font-size="8.15" textLength="9.15" lengthAdjust="spacingAndGlyphs">51</text>
<text x="254.25" y="800.25" font-size="8.15" textLength="24.00" lengthAdjust="spacingAndGlyphs">18.6%</text>
<text x="301.65" y="800.25" font-size="8.15" textLength="63.10" lengthAdjust="spacingAndGlyphs">1.03 [0.45, 2.35]</text>
<text x="10.85" y="812.95" font-size="8.15" textLength="43.15" lengthAdjust="spacingAndGlyphs">Total events</text>
<text x="128.20" y="812.95" font-size="8.15" textLength="5.00" lengthAdjust="spacingAndGlyphs">2</text>
<text x="191.05" y="812.95" font-size="8.15" textLength="9.75" lengthAdjust="spacingAndGlyphs">33</text>
<text y="823.15" font-size="8.15"><tspan x="10.35" textLength="54.15" lengthAdjust="spacingAndGlyphs">Heterogeneity:</tspan> <tspan x="66.10" textLength="13.80" lengthAdjust="spacingAndGlyphs">Not</tspan> <tspan x="82.85" textLength="37.30" lengthAdjust="spacingAndGlyphs">applicable</tspan></text>
<text y="833.50" font-size="8.15"><tspan x="10.85" textLength="78.55" lengthAdjust="spacingAndGlyphs">Test for overall effect:</tspan> <tspan x="90.85" textLength="5.55" lengthAdjust="spacingAndGlyphs">Z</tspan> <tspan x="98.60" textLength="6.80" lengthAdjust="spacingAndGlyphs">=</tspan> <tspan x="107.10" textLength="17.65" lengthAdjust="spacingAndGlyphs">0.07</tspan> <tspan x="126.85" textLength="9.25" lengthAdjust="spacingAndGlyphs">(P</tspan> <tspan x="136.50" textLength="6.65" lengthAdjust="spacingAndGlyphs">=</tspan> <tspan x="145.35" textLength="19.90" lengthAdjust="spacingAndGlyphs">0.94)</tspan></text>
<text x="10.60" y="852.80" font-size="8.15" textLength="59.85" lengthAdjust="spacingAndGlyphs">2 vaccine doses</text>
<text x="10.85" y="866.25" font-size="8.15" textLength="66.80" lengthAdjust="spacingAndGlyphs">de Lavallade 2011</text>
<text x="128.45" y="866.00" font-size="8.15" textLength="4.75" lengthAdjust="spacingAndGlyphs">3</text>
<text x="158.05" y="866.00" font-size="8.15" textLength="4.75" lengthAdjust="spacingAndGlyphs">3</text>
<text x="191.05" y="866.00" font-size="8.15" textLength="8.90" lengthAdjust="spacingAndGlyphs">41</text>
<text x="230.80" y="866.00" font-size="8.15" textLength="9.15" lengthAdjust="spacingAndGlyphs">51</text>
<text x="253.90" y="866.00" font-size="8.15" textLength="24.15" lengthAdjust="spacingAndGlyphs">81.4%</text>
<text x="301.65" y="866.00" font-size="8.15" textLength="63.10" lengthAdjust="spacingAndGlyphs">1.10 [0.74, 1.63]</text>
<text x="10.60" y="875.40" font-size="8.15" textLength="67.65" lengthAdjust="spacingAndGlyphs">Subtotal (95% CI)</text>
<text x="158.05" y="875.80" font-size="8.15" textLength="4.75" lengthAdjust="spacingAndGlyphs">3</text>
<text x="230.80" y="875.80" font-size="8.15" textLength="9.15" lengthAdjust="spacingAndGlyphs">51</text>
<text x="253.90" y="875.80" font-size="8.15" textLength="24.15" lengthAdjust="spacingAndGlyphs">81.4%</text>
<text x="301.65" y="875.80" font-size="8.15" textLength="63.10" lengthAdjust="spacingAndGlyphs">1.10 [0.74, 1.63]</text>
<text x="10.85" y="888.65" font-size="8.15" textLength="43.15" lengthAdjust="spacingAndGlyphs">Total events</text>
<text x="128.45" y="888.65" font-size="8.15" textLength="4.75" lengthAdjust="spacingAndGlyphs">3</text>
<text x="191.05" y="888.65" font-size="8.15" textLength="8.90" lengthAdjust="spacingAndGlyphs">41</text>
<text y="898.75" font-size="8.15"><tspan x="10.35" textLength="54.15" lengthAdjust="spacingAndGlyphs">Heterogeneity:</tspan> <tspan x="66.10" textLength="13.80" lengthAdjust="spacingAndGlyphs">Not</tspan> <tspan x="82.85" textLength="37.30" lengthAdjust="spacingAndGlyphs">applicable</tspan></text>
<text y="909.15" font-size="8.15"><tspan x="10.85" textLength="78.55" lengthAdjust="spacingAndGlyphs">Test for overall effect:</tspan> <tspan x="90.85" textLength="5.55" lengthAdjust="spacingAndGlyphs">Z</tspan> <tspan x="98.60" textLength="6.80" lengthAdjust="spacingAndGlyphs">=</tspan> <tspan x="107.10" textLength="17.65" lengthAdjust="spacingAndGlyphs">0.46</tspan> <tspan x="126.85" textLength="9.25" lengthAdjust="spacingAndGlyphs">(P</tspan> <tspan x="136.50" textLength="6.65" lengthAdjust="spacingAndGlyphs">=</tspan> <tspan x="145.35" textLength="19.90" lengthAdjust="spacingAndGlyphs">0.65)</tspan></text>
<text x="370.05" y="940.40" font-size="7.7" textLength="14.75" lengthAdjust="spacingAndGlyphs">0.01</text>
<text x="399.95" y="940.40" font-size="7.7" textLength="10.25" lengthAdjust="spacingAndGlyphs">0.1</text>
<text x="436.50" y="940.40" font-size="7.7" textLength="2.60" lengthAdjust="spacingAndGlyphs">1</text>
<text x="467.50" y="940.40" font-size="7.7" textLength="8.55" lengthAdjust="spacingAndGlyphs">10</text>
<text x="492.60" y="940.40" font-size="7.7" textLength="13.20" lengthAdjust="spacingAndGlyphs">100</text>
</g>
</svg>
</body>
</html>
